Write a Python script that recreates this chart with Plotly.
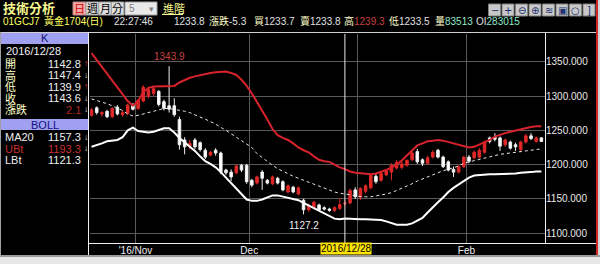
import pandas as pd
import plotly.graph_objects as go

# ---------------- data ----------------
dates = [d.strftime('%Y/%m/%d') for d in pd.bdate_range('2016-10-19', '2017-02-21')
         if d.strftime('%Y-%m-%d') not in ('2016-12-26', '2017-01-02')]

opens = [1272, 1283, 1274, 1278, 1270, 1284, 1273, 1275, 1287, 1282,
         1293, 1300, 1304, 1307, 1292, 1286, 1286, 1266, 1236, 1227,
         1236, 1232, 1221, 1214, 1221, 1217, 1192, 1189, 1188, 1199,
         1199, 1177, 1173, 1189, 1177, 1172, 1180, 1175, 1160, 1167,
         1157, 1148, 1134, 1137, 1141, 1137, 1135, 1133, 1136, 1142.8,
         1144, 1163, 1152, 1161, 1166, 1183, 1177, 1185, 1189, 1195,
         1196, 1199, 1207, 1219, 1207, 1202, 1211, 1221, 1211, 1204,
         1193, 1189, 1197, 1211, 1210, 1211, 1218, 1239, 1240, 1239,
         1229, 1233, 1229, 1222, 1233, 1242, 1234, 1239.1]
highs = [1283, 1285, 1278, 1280, 1284, 1287, 1279, 1289, 1290, 1296,
         1316, 1313, 1314, 1309, 1295, 1343.9, 1297, 1270, 1240, 1236,
         1239, 1234, 1224, 1220, 1224, 1219, 1194, 1193, 1200, 1201,
         1201, 1179, 1184, 1192, 1179, 1184, 1182, 1177, 1171, 1169,
         1168, 1150, 1143, 1147, 1143, 1139, 1137, 1139, 1151, 1147.4,
         1165, 1167, 1167, 1171, 1186, 1187, 1189, 1193, 1202, 1207,
         1205, 1208, 1219, 1223, 1209, 1213, 1221, 1223, 1213, 1206,
         1197, 1199, 1213, 1214, 1221, 1224, 1235, 1241, 1246, 1241,
         1238, 1235, 1232, 1235, 1245, 1246, 1241, 1239.3]
lows = [1270, 1273, 1270, 1268, 1268, 1272, 1270, 1272, 1279, 1280,
        1291, 1297, 1300, 1285, 1279, 1276, 1270, 1222, 1215, 1222,
        1223, 1219, 1208, 1212, 1213, 1186, 1185, 1176, 1186, 1189,
        1172, 1167, 1171, 1163, 1171, 1170, 1171, 1161, 1158, 1158,
        1155, 1127.2, 1131, 1135, 1132, 1133, 1131, 1131, 1134, 1139.9,
        1142, 1150, 1148, 1158, 1164, 1172, 1175, 1183, 1177, 1193,
        1193, 1197, 1205, 1201, 1198, 1200, 1209, 1209, 1195, 1190,
        1182, 1187, 1195, 1202, 1208, 1209, 1216, 1231, 1234, 1220,
        1226, 1222, 1220, 1218, 1231, 1236, 1232, 1233.5]
closes = [1280, 1276, 1276, 1270, 1282, 1274, 1276, 1287, 1281, 1294,
          1313, 1309, 1311, 1288, 1282, 1281, 1273, 1229, 1226, 1231,
          1226, 1222, 1211, 1218, 1217, 1189, 1188, 1182, 1198, 1192,
          1175, 1170, 1182, 1180, 1173, 1182, 1173, 1163, 1169, 1160,
          1166, 1134, 1141, 1145, 1134, 1135, 1133, 1137, 1141.5, 1143.6,
          1162, 1153, 1165, 1169, 1184, 1175, 1187, 1191, 1199, 1203,
          1201, 1206, 1217, 1204, 1202, 1210, 1218, 1211, 1197, 1192,
          1189, 1197, 1211, 1205, 1218, 1221, 1233, 1234, 1237, 1227,
          1236, 1224, 1226, 1233, 1242, 1238, 1239.1, 1233.8]
ma20 = [1296, 1294, 1292, 1289, 1286, 1283, 1279, 1274, 1271, 1272,
        1274, 1276, 1278, 1280, 1282, 1282, 1281, 1280, 1278, 1276,
        1273, 1270, 1267, 1263, 1259, 1255, 1250, 1245, 1240, 1235,
        1231, 1225, 1216, 1210, 1204, 1199, 1194, 1190, 1187, 1183,
        1180, 1177, 1174, 1171, 1168, 1165, 1163, 1160, 1158, 1157.3,
        1156, 1154, 1153, 1153, 1153, 1154, 1155, 1157, 1159, 1162,
        1166, 1169, 1172, 1176, 1179, 1182, 1186, 1189, 1191, 1193,
        1195, 1198, 1202, 1204, 1206, 1208, 1210, 1212, 1214, 1215,
        1216, 1217, 1217, 1218, 1219, 1221, 1222, 1223]
ubt = [1363, 1353, 1343, 1333, 1323, 1313, 1303, 1293, 1286, 1293,
       1306, 1312, 1314, 1314, 1314, 1314, 1315, 1320, 1324, 1327,
       1329, 1331, 1333, 1334, 1335, 1336, 1336, 1334, 1331, 1324,
       1315, 1304, 1292, 1280, 1266, 1252, 1243, 1239, 1236, 1231,
       1225, 1221, 1218, 1212, 1207, 1205, 1204, 1200, 1196, 1193.3,
       1190, 1188, 1187, 1186, 1186, 1187, 1189, 1192, 1196, 1200,
       1206, 1213, 1220, 1228, 1231, 1234, 1235, 1236, 1235, 1233,
       1231, 1228, 1226, 1225, 1226, 1229, 1232, 1236, 1241, 1244,
       1246, 1248, 1250, 1252, 1254, 1255, 1256, 1256]
lbt = [1226, 1228, 1231, 1234, 1235, 1236, 1240, 1250, 1254, 1249,
       1248, 1247, 1248, 1250, 1253, 1253, 1247, 1239, 1233, 1227,
       1220, 1212, 1205, 1201, 1196, 1189, 1181, 1173, 1165, 1156,
       1149, 1147, 1147, 1149, 1152, 1155, 1155, 1153, 1151, 1149,
       1148, 1144, 1140, 1136, 1132, 1128, 1124, 1121, 1120, 1121.3,
       1121, 1120, 1120, 1120, 1120, 1120, 1119, 1117, 1114, 1112,
       1112, 1112, 1114, 1118, 1122, 1130, 1138, 1145, 1152, 1160,
       1166, 1171, 1176, 1181, 1184, 1185, 1185, 1186, 1186, 1186,
       1186, 1187, 1187, 1188, 1188, 1189, 1190, 1190]

y_ticks = [1100, 1150, 1200, 1250, 1300, 1350]
month_labels = {"2016/11": "'16/Nov", "2016/12": "Dec", "2017/01": "", "2017/02": "Feb"}
cursor_date = "2016/12/28"

header_items = {"code": "01GCJ7", "name": "黃金1704(日)", "time": "22:27:46",
                "bid": "1233.7", "ask": "1233.8", "vol": "83513", "oi": "283015"}

# ---------------- helpers ----------------
W, H = 600, 264
ML, MR, MT, MB = 90, 55, 34, 21
PW, PH = W - ML - MR, H - MT - MB
FONT = "Liberation Sans, Noto Sans CJK TC, sans-serif"


def fx(x):
    return (x - ML) / PW


def fy(y):
    return (H - MB - y) / PH


xs = list(range(len(dates)))
ci = dates.index(cursor_date)

fig = go.Figure()
fig.add_trace(go.Candlestick(
    x=xs, open=opens, high=highs, low=lows, close=closes,
    increasing=dict(line=dict(color="#e02828", width=1), fillcolor="#e02828"),
    decreasing=dict(line=dict(color="#f0f0f0", width=1), fillcolor="#ffffff"),
    whiskerwidth=0, hoverinfo="skip", showlegend=False))
fig.add_trace(go.Scatter(x=xs, y=ubt, mode="lines", line=dict(color="#d8222c", width=2),
                         hoverinfo="skip", showlegend=False))
fig.add_trace(go.Scatter(x=xs, y=lbt, mode="lines", line=dict(color="#ffffff", width=2),
                         hoverinfo="skip", showlegend=False))
fig.add_trace(go.Scatter(x=xs, y=ma20, mode="lines", line=dict(color="#e8e8e8", width=1, dash="dot"),
                         hoverinfo="skip", showlegend=False))

# month ticks at boundaries between candles
tickvals, ticktext = [], []
for i in range(1, len(dates)):
    m = dates[i][:7]
    if m != dates[i - 1][:7] and m in month_labels:
        tickvals.append(i - 0.5)
        ticktext.append(month_labels[m])

shapes = []
annos = []


def rect(x0, y0, x1, y1, fill, line=None, lw=0):
    shapes.append(dict(type="rect", xref="paper", yref="paper", x0=fx(x0), x1=fx(x1),
                       y0=fy(y1), y1=fy(y0), fillcolor=fill,
                       line=dict(color=line or fill, width=lw), layer="above"))


def hline(x0, x1, y, color, w=1):
    shapes.append(dict(type="line", xref="paper", yref="paper", x0=fx(x0), x1=fx(x1),
                       y0=fy(y), y1=fy(y), line=dict(color=color, width=w), layer="above"))


def vline(x, y0, y1, color, w=1):
    shapes.append(dict(type="line", xref="paper", yref="paper", x0=fx(x), x1=fx(x),
                       y0=fy(y0), y1=fy(y1), line=dict(color=color, width=w), layer="above"))


def text(x, y, s, color="#e8e8e8", size=10, anchor="left", family=FONT):
    annos.append(dict(xref="paper", yref="paper", x=fx(x), y=fy(y), text=s, showarrow=False,
                      xanchor=anchor, yanchor="middle", font=dict(color=color, size=size, family=family),
                      borderpad=0))


# frame
hline(0, 597, 32.5, "#d0d0d0")
hline(88, 597, 243.5, "#f0f0f0")
vline(88.5, 32, 256, "#f0f0f0")
vline(545.5, 33, 243.5, "#f0f0f0")
vline(597, 0, 256, "#d02828", 2)
rect(598, 0, 600, 264, "#d4d4d4")
rect(0, 255, 600, 264, "#e6e6e6")
hline(0, 600, 256, "#9a9a9a", 2)
vline(0.5, 32, 256, "#a0a0a0")

# left panel
Y = "#ffffc8"
rect(1, 33, 88, 44, "#a0a0f0")
text(44.5, 38.5, "K", "#101070", 11, "center")
text(5, 51, cursor_date, "#f0f0f0", 11)
prev_close = closes[ci - 1]
rows = [("開", opens[ci], "↑", "#e04040"), ("高", highs[ci], "↓", "#e0e0e0"),
        ("低", lows[ci], "↑", "#e04040"), ("收", closes[ci], "↓", "#e0e0e0")]
yy = 63.5
for lab, v, arr, ac in rows:
    text(4, yy, lab, Y, 11)
    text(82, yy, f"{v:.1f}", "#f0f0f0", 11, "right")
    text(82.5, yy, arr, ac, 8)
    yy += 11.6
text(4, yy, "漲跌", Y, 11)
text(82, yy, f"{closes[ci] - prev_close:.1f}", "#b02828", 11, "right")
text(82.5, yy, "↓", "#e0e0e0", 8)
rect(1, 119, 88, 130, "#a0a0f0")
text(44.5, 124.5, "BOLL", "#101080", 11, "center")
text(4, 137, "MA20", "#f0f0f0", 11)
text(82, 137, f"{ma20[ci]:.1f}", "#f0f0f0", 11, "right")
text(83, 137, "↓", "#e0e0e0", 8)
text(4, 148.5, "UBt", "#c83030", 11)
text(82, 148.5, f"{ubt[ci]:.1f}", "#c83030", 11, "right")
text(83, 148.5, "↓", "#e0e0e0", 8)
text(4, 160, "LBt", "#f0f0f0", 11)
text(82, 160, f"{lbt[ci]:.1f}", "#f0f0f0", 11, "right")

# title bar
text(2, 8.5, "<b>技術分析</b>", "#f8f890", 13)
rect(73, 2, 86, 15, "#f0a8a8", "#c08080", 1)
text(79.5, 8.5, "日", "#d00000", 11, "center")
for i, ch in enumerate(["週", "月", "分"]):
    x0 = 86 + i * 12.7
    rect(x0, 2, x0 + 12.5, 15, "#dcdcdc", "#a0a0a0", 1)
    text(x0 + 6.3, 8.5, ch, "#000000", 11, "center")
rect(125, 2, 157, 15, "#e8e8e8", "#a0a0a0", 1)
text(128, 8.5, "5", "#808080", 10)
text(151, 8.5, "▾", "#808080", 9, "center")
text(162, 8.5, "進階", "#f8f890", 11)
hline(162, 183, 14.5, "#f8f890")
icons = ["−", "+", "⊖", "⊕", "≋", "▣", "○", "]"]
for i, ic in enumerate(icons):
    x0 = 488.5 + i * 13.5
    rect(x0, 4, x0 + 12, 16, "#c8c8c8", "#808080", 1)
    text(x0 + 6, 10, ic, "#203070", 10, "center", "DejaVu Sans")

# info line
last = closes[-1]
chg = closes[-1] - closes[-2]
IY = 21
FS = 10
text(2, IY, header_items["code"], "#ffff60", FS)
text(43, IY, header_items["name"], "#ffff60", FS)
text(113, IY, header_items["time"], "#e0e0e0", FS)
text(173, IY, f"{last:.1f}", "#e0e0e0", FS)
text(208, IY, f"<span style='color:{Y}'>漲跌</span>{chg:.1f}", "#e0e0e0", FS)
text(253, IY, f"<span style='color:{Y}'>買</span>{header_items['bid']}", "#e0e0e0", FS)
text(299, IY, f"<span style='color:{Y}'>賣</span>{header_items['ask']}", "#e0e0e0", FS)
text(343, IY, f"<span style='color:{Y}'>高</span><span style='color:#c84040'>{highs[-1]:.1f}</span>", "#e0e0e0", FS)
text(388, IY, f"<span style='color:{Y}'>低</span>{lows[-1]:.1f}", "#e0e0e0", FS)
text(434, IY, f"<span style='color:{Y}'>量</span><span style='color:#90e8c8'>{header_items['vol']}</span>", "#e0e0e0", FS)
text(475, IY, f"OI<span style='color:#90e8c8'>{header_items['oi']}</span>", "#e0e0e0", FS)

# cursor
shapes.append(dict(type="line", xref="x", yref="paper", x0=ci, x1=ci, y0=0, y1=1,
                   line=dict(color="#e8e8e8", width=1), layer="above"))
annos.append(dict(xref="x", yref="paper", x=ci + 0.25, y=fy(249), text=cursor_date, showarrow=False,
                  xanchor="center", yanchor="middle", bgcolor="#ffe400", borderpad=0,
                  font=dict(color="#000000", size=10, family=FONT)))

# extreme labels
imax = highs.index(max(highs))
imin = lows.index(min(lows))
annos.append(dict(xref="x", yref="y", x=imax, y=highs[imax], text=f"{highs[imax]:.1f}", showarrow=False,
                  xanchor="center", yanchor="bottom", yshift=2,
                  font=dict(color="#c84040", size=10, family=FONT)))
annos.append(dict(xref="x", yref="y", x=imin, y=lows[imin], text=f"{lows[imin]:.1f}", showarrow=False,
                  xanchor="center", yanchor="top", yshift=-4,
                  font=dict(color="#f0f0f0", size=10, family=FONT)))

fig.update_layout(
    width=W, height=H, margin=dict(l=ML, r=MR, t=MT, b=MB, pad=0, autoexpand=False),
    paper_bgcolor="#000000", plot_bgcolor="#000000",
    font=dict(family=FONT, color="#e8e8e8", size=10),
    shapes=shapes, annotations=annos, showlegend=False,
    xaxis=dict(range=[-0.3, len(dates) - 0.3], tickvals=tickvals, ticktext=ticktext,
               showgrid=True, gridcolor="#5a5a5a", gridwidth=1, zeroline=False,
               ticks="", showline=False, rangeslider=dict(visible=False),
               ticklabelstandoff=0, automargin=False,
               tickfont=dict(size=10, color="#f0f0f0")),
    yaxis=dict(range=[1085.4, 1390.9], side="right", tickvals=y_ticks, tickformat=".3f",
               showgrid=True, gridcolor="#5a5a5a", gridwidth=1, zeroline=False, automargin=False,
               ticks="", showline=False, tickfont=dict(size=10, color="#e8e8e8")),
)

fig.write_html("out.html")
